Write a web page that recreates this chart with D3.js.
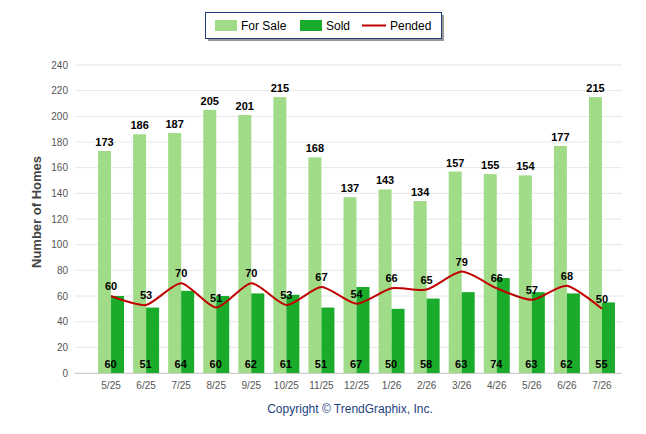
<!DOCTYPE html><html><head><meta charset="utf-8"><script src="https://cdn.jsdelivr.net/npm/d3@7"></script>
<style>body{margin:0;background:#fff;font-family:Arial,"Liberation Sans",sans-serif}</style></head><body><svg id="c" width="646" height="434"></svg>
<script>
const categories=["5/25","6/25","7/25","8/25","9/25","10/25","11/25","12/25","1/26","2/26","3/26","4/26","5/26","6/26","7/26"];
const forSale=[173,186,187,205,201,215,168,137,143,134,157,155,154,177,215];
const sold=[60,51,64,60,62,61,51,67,50,58,63,74,63,62,55];
const pended=[60,53,70,51,70,53,67,54,66,65,79,66,57,68,50];
const yTicks=[0,20,40,60,80,100,120,140,160,180,200,220,240];
const svg=d3.select("#c");
const x=d3.scaleBand().domain(categories).range([93.5,619.5]);
const y=d3.scaleLinear().domain([0,240]).range([373,65]);
svg.append("g").selectAll("line").data(yTicks).join("line").attr("x1",75).attr("x2",622).attr("y1",d=>y(d)).attr("y2",d=>y(d)).attr("stroke","#e6e6e6");
svg.append("line").attr("x1",75).attr("x2",622).attr("y1",373.5).attr("y2",373.5).attr("stroke","#ccc");
svg.append("g").selectAll("text").data(yTicks).join("text").attr("x",68).attr("y",d=>y(d)+3.5).attr("text-anchor","end").attr("font-size",10).attr("fill","#555").text(d=>d);
svg.append("g").selectAll("text").data(categories).join("text").attr("x",d=>x(d)+x.bandwidth()/2).attr("y",389).attr("text-anchor","middle").attr("font-size",10).attr("fill","#555").text(d=>d);
const bw=13;
const cx=d=>x(d)+x.bandwidth()/2;
svg.append("g").selectAll("rect").data(categories).join("rect").attr("x",d=>cx(d)-bw).attr("width",bw).attr("y",(d,i)=>y(forSale[i])).attr("height",(d,i)=>373-y(forSale[i])).attr("fill","#a0dc88");
svg.append("g").selectAll("rect").data(categories).join("rect").attr("x",d=>cx(d)).attr("width",bw).attr("y",(d,i)=>y(sold[i])).attr("height",(d,i)=>373-y(sold[i])).attr("fill","#1aab2a");
const line=d3.line().x(d=>d[0]).y(d=>d[1]).curve(d3.curveCardinal.tension(0.3));
svg.append("path").attr("d",line(categories.map((c,i)=>[cx(c),y(pended[i])]))).attr("fill","none").attr("stroke","#c00000").attr("stroke-width",2);
const lab=(data,fx,fy)=>svg.append("g").selectAll("text").data(categories).join("text").attr("x",(d,i)=>fx(d,i)).attr("y",(d,i)=>fy(d,i)).attr("text-anchor","middle").attr("font-size",11).attr("font-weight","bold").attr("fill","#000").text((d,i)=>data[i]);
lab(forSale,d=>cx(d)-bw/2,(d,i)=>y(forSale[i])-5);
lab(sold,d=>cx(d)-bw/2+6,()=>368);
lab(pended,d=>cx(d),(d,i)=>y(pended[i])-6);
svg.append("text").attr("transform","translate(41,212) rotate(-90)").attr("text-anchor","middle").attr("font-size",13).attr("font-weight","bold").attr("fill","#444").text("Number of Homes");
svg.append("text").attr("x",350).attr("y",413).attr("text-anchor","middle").attr("font-size",12).attr("fill","#1f3f7f").text("Copyright © TrendGraphix, Inc.");
const lg=svg.append("g");
lg.append("rect").attr("x",208).attr("y",15).attr("width",236).attr("height",26).attr("fill","#999");
lg.append("rect").attr("x",205.5).attr("y",12.5).attr("width",236).attr("height",26).attr("fill","#fff").attr("stroke","#1f3f7f");
lg.append("rect").attr("x",215).attr("y",20).attr("width",22).attr("height",11).attr("fill","#a0dc88");
lg.append("text").attr("x",241).attr("y",30).attr("font-size",12).text("For Sale");
lg.append("rect").attr("x",300).attr("y",20).attr("width",22).attr("height",11).attr("fill","#1aab2a");
lg.append("text").attr("x",326).attr("y",30).attr("font-size",12).text("Sold");
lg.append("line").attr("x1",362).attr("x2",386).attr("y1",25.5).attr("y2",25.5).attr("stroke","#c00000").attr("stroke-width",2);
lg.append("text").attr("x",390).attr("y",30).attr("font-size",12).text("Pended");
</script></body></html>
